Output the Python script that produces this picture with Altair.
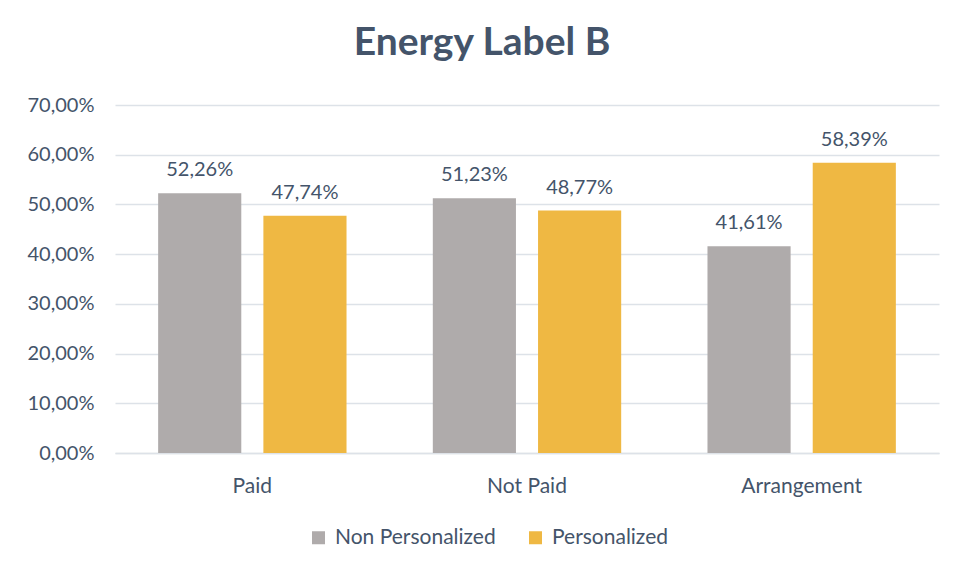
import altair as alt
import pandas as pd

categories = ["Paid", "Not Paid", "Arrangement"]
series = ["Non Personalized", "Personalized"]
non_personalized = [0.5226, 0.5123, 0.4161]
personalized = [0.4774, 0.4877, 0.5839]
y_ticks = [0, 0.1, 0.2, 0.3, 0.4, 0.5, 0.6, 0.7]
colors = ["#AFABAB", "#EFB843"]

rows = []
for i, c in enumerate(categories):
    rows.append({"category": c, "series": series[0], "value": non_personalized[i]})
    rows.append({"category": c, "series": series[1], "value": personalized[i]})
df = pd.DataFrame(rows)

FONT = "Lato"
TXT = "#44546A"
GRID = "#DDE2E8"

x = alt.X("category:N", sort=categories,
          scale=alt.Scale(paddingInner=0, paddingOuter=0),
          axis=alt.Axis(title=None, labelAngle=0, labelFontSize=21, labelFont=FONT,
                        labelColor=TXT, labelPadding=22, ticks=False,
                        domainColor=GRID, domainWidth=1.5))
xo = alt.XOffset("series:N", sort=series,
                 scale=alt.Scale(paddingInner=0.21, paddingOuter=0.41))
y = alt.Y("value:Q", scale=alt.Scale(domain=[0, 0.7], nice=False),
          axis=alt.Axis(title=None, values=y_ticks, domain=False, ticks=False,
                        labelExpr="replace(format(datum.value, '.2%'), '.', ',')",
                        labelFontSize=20, labelFont=FONT, labelColor=TXT, labelPadding=21,
                        gridColor=GRID, gridWidth=1.5))
color = alt.Color("series:N", sort=series,
                  scale=alt.Scale(domain=series, range=colors),
                  legend=alt.Legend(title=None, orient="none", direction="horizontal",
                                    legendX=193, legendY=422, symbolType="square",
                                    symbolSize=169, symbolStrokeWidth=0,
                                    labelFontSize=21, labelFont=FONT, labelColor=TXT,
                                    labelLimit=0, columnPadding=29, labelOffset=6))

base = alt.Chart(df)
bars = base.mark_bar().encode(x=x, xOffset=xo, y=y, color=color)
labels = base.transform_calculate(
    lbl="replace(format(datum.value, '.2%'), '.', ',')"
).mark_text(baseline="middle", dy=-23, fontSize=20, font=FONT, color=TXT).encode(
    x=alt.X("category:N", sort=categories), xOffset=alt.XOffset("series:N", sort=series),
    y="value:Q", text="lbl:N")

chart = alt.layer(bars, labels).properties(
    width=824, height=348,
    autosize=alt.AutoSizeParams(type="none"),
    padding={"left": 107, "top": 97, "right": 17, "bottom": 125},
    title=alt.TitleParams("Energy Label B", fontSize=39, font=FONT, fontWeight="bold",
                          color=TXT, anchor="middle", dx=-45, offset=1,
                          baseline="alphabetic"),
).configure(background="white").configure_view(strokeWidth=0)

chart.save("out.html", embed_options={"renderer": "svg", "actions": False})
